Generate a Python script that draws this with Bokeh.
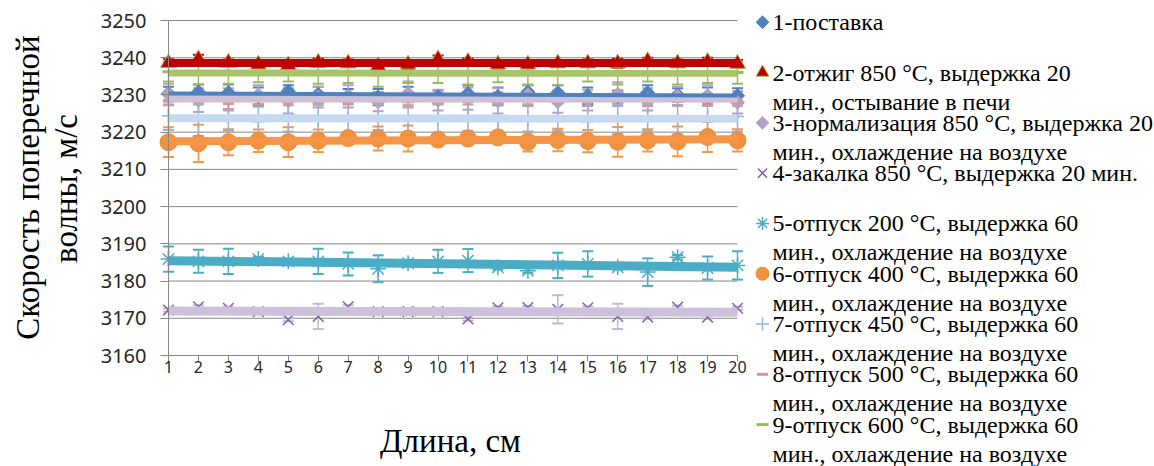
import numpy as np
from math import pi
from bokeh.plotting import figure
from bokeh.models import ColumnDataSource, FixedTicker, Range1d, Whisker, TeeHead, Label
from bokeh.embed import file_html
from bokeh.resources import INLINE

# ---------------- data ----------------
x_cats = list(range(1, 21))
y_ticks = [3160, 3170, 3180, 3190, 3200, 3210, 3220, 3230, 3240, 3250]

s1 = [3230.4, 3230.8, 3230.6, 3229.6, 3231.0, 3230.2, 3229.8, 3229.4, 3230.2, 3229.6,
      3230.4, 3229.6, 3230.8, 3230.6, 3229.8, 3229.6, 3230.6, 3230.0, 3229.6, 3229.8]
e1 = [1.8, 2.0, 2.2, 2.4, 1.6, 2.0, 1.8, 2.2, 2.0, 1.6, 2.2, 2.4, 1.8, 2.0, 2.2, 1.6, 2.0, 1.8, 2.4, 2.0]

s2 = [3238.6, 3239.6, 3238.7, 3238.2, 3238.0, 3238.7, 3238.5, 3237.8, 3238.2, 3239.6,
      3238.9, 3238.2, 3238.2, 3238.5, 3238.5, 3238.5, 3239.1, 3238.5, 3238.9, 3238.4]
e2 = [1.0, 1.2, 0.8, 1.0, 0.9, 1.1, 1.0, 0.8, 1.2, 1.0, 0.9, 1.1, 1.0, 0.8, 1.0, 1.2, 0.9, 1.0, 1.1, 1.0]

s3 = [3230.2, 3228.6, 3228.8, 3230.0, 3228.4, 3229.4, 3229.6, 3228.2, 3230.4, 3228.6,
      3229.0, 3228.4, 3230.0, 3228.2, 3228.6, 3230.2, 3228.8, 3229.6, 3229.8, 3228.0]
e3 = [2.8, 3.2, 3.0, 2.6, 3.4, 2.8, 3.0, 2.6, 3.2, 2.8, 3.0, 3.4, 2.6, 3.0, 2.8, 3.2, 3.0, 2.6, 2.8, 3.0]

s4 = [3172.2, 3173.1, 3172.7, 3171.8, 3169.6, 3170.5, 3173.1, 3171.8, 3171.8, 3171.8,
      3169.8, 3172.8, 3172.9, 3172.4, 3172.8, 3170.5, 3170.3, 3173.0, 3170.3, 3172.7]
e4 = [0.4, 0.4, 0.4, 0.4, 0.4, 3.4, 0.4, 0.4, 0.4, 0.4, 0.4, 0.4, 0.4, 3.8, 0.4, 3.4, 0.4, 0.4, 0.4, 0.4]

s5 = [3185.9, 3185.3, 3185.3, 3185.9, 3185.3, 3185.3, 3184.6, 3183.3, 3184.8, 3185.3,
      3185.5, 3183.7, 3182.8, 3184.2, 3184.6, 3183.7, 3182.4, 3186.4, 3183.5, 3184.2]
e5 = [3.4, 3.1, 3.4, 0.6, 0.6, 3.4, 3.1, 3.6, 0.6, 3.1, 3.1, 0.6, 0.6, 3.4, 3.4, 0.6, 3.7, 0.6, 3.1, 3.8]

s6 = [3217.3, 3217.0, 3217.3, 3217.7, 3217.3, 3217.7, 3218.4, 3218.3, 3218.3, 3218.0,
      3218.3, 3218.6, 3217.4, 3217.9, 3217.6, 3217.4, 3217.8, 3217.5, 3218.7, 3217.8]
e6 = [4.0, 5.0, 3.5, 3.0, 4.0, 3.0, 0.8, 3.2, 3.5, 0.8, 0.8, 0.8, 2.6, 3.0, 3.0, 4.0, 3.0, 4.0, 4.0, 3.0]

s7 = [3224.4, 3223.2, 3224.0, 3222.8, 3224.6, 3223.4, 3223.8, 3224.2, 3222.9, 3223.6,
      3224.4, 3223.0, 3223.8, 3224.2, 3222.8, 3223.6, 3224.0, 3223.2, 3223.8, 3224.2]
e7 = [3.8, 4.2, 3.6, 4.0, 4.4, 3.8, 4.0, 3.6, 4.2, 3.8, 4.0, 4.4, 3.6, 3.8, 4.2, 4.0, 3.6, 3.8, 4.2, 4.0]

s8 = [3228.6, 3229.2, 3227.8, 3229.0, 3228.4, 3229.2, 3228.8, 3229.4, 3228.2, 3229.0,
      3228.6, 3229.2, 3228.4, 3229.0, 3228.6, 3229.4, 3228.2, 3228.8, 3229.0, 3228.4]
e8 = [1.4, 1.2, 1.6, 1.4, 1.2, 1.5, 1.4, 1.3, 1.6, 1.4, 1.2, 1.5, 1.4, 1.3, 1.6, 1.4, 1.2, 1.5, 1.4, 1.3]

s9 = [3236.2, 3235.6, 3236.0, 3235.8, 3236.4, 3235.6, 3236.0, 3235.4, 3235.8, 3236.2,
      3235.6, 3236.0, 3235.8, 3235.4, 3236.2, 3235.8, 3236.0, 3235.6, 3235.8, 3236.0]
e9 = [2.6, 2.8, 3.0, 2.4, 2.8, 2.6, 2.8, 3.2, 2.6, 3.0, 2.8, 2.6, 3.0, 2.8, 2.6, 3.0, 2.4, 2.8, 2.6, 3.0]

legend_lines = [
    ("1-поставка", ""),
    ("2-отжиг 850 °C, выдержка 20", "мин., остывание в печи"),
    ("3-нормализация 850 °C, выдержка 20", "мин., охлаждение на воздухе"),
    ("4-закалка 850 °C, выдержка 20 мин.", ""),
    ("5-отпуск 200 °C, выдержка 60", "мин., охлаждение на воздухе"),
    ("6-отпуск 400 °C, выдержка 60", "мин., охлаждение на воздухе"),
    ("7-отпуск 450 °C, выдержка 60", "мин., охлаждение на воздухе"),
    ("8-отпуск 500 °C, выдержка 60", "мин., охлаждение на воздухе"),
    ("9-отпуск 600 °C, выдержка 60", "мин., охлаждение на воздухе"),
]
x_title = "Длина, см"
y_title = ("Скорость поперечной", "волны, м/с")

# ---------------- styles ----------------
series = [
    dict(y=s1, e=e1, marker="square", angle=pi / 4, size=10, fill="#4F81BD", line="#4F81BD", lw=1,
         ecol="#4F81BD", tcol="#4F81BD", tw=4),
    dict(y=s2, e=e2, marker="triangle", angle=0, size=16, fill="#C00000", line="#9BBB59", lw=1,
         ecol="#C00000", tcol="#C00000", tw=8),
    dict(y=s3, e=e3, marker="square", angle=pi / 4, size=10, fill="#B3A2C7", line="#B3A2C7", lw=1,
         ecol="#B3A2C7", tcol="#CCC1DA", tw=6),
    dict(y=s4, e=e4, marker="x", angle=0, size=15, fill="#8064A2", line="#8064A2", lw=1.5,
         ecol="#C3B6D6", tcol="#CCC1DA", tw=9),
    dict(y=s5, e=e5, marker="asterisk", angle=0, size=16, fill="#4BACC6", line="#4BACC6", lw=1.5,
         ecol="#4BACC6", tcol="#4BACC6", tw=9),
    dict(y=s6, e=e6, marker="circle", angle=0, size=17, fill="#F0923F", line="#E98A38", lw=1,
         ecol="#F79646", tcol="#F79646", tw=8),
    dict(y=s7, e=e7, marker="cross", angle=0, size=13, fill="#95B3D7", line="#95B3D7", lw=1.5,
         ecol="#95B3D7", tcol="#C6D9F1", tw=8),
    dict(y=s8, e=e8, marker="dash", angle=0, size=11, fill="#D99694", line="#D99694", lw=3,
         ecol="#D99694", tcol="#E6B9B8", tw=6),
    dict(y=s9, e=e9, marker="dash", angle=0, size=12, fill="#9BBB59", line="#9BBB59", lw=3,
         ecol="#9BBB59", tcol="#A7C46B", tw=7),
]
trend_order = [7, 8, 1, 2, 0, 6, 5, 4, 3]

GRID = "#868686"
SERIF = "Liberation Serif"
SANS = "Noto Sans"

# ---------------- layout (pixels inside the canvas) ----------------
W, H = 1154, 466
AX_L, AX_R, AX_T, AX_B = 168, 737, 20, 355
Y0, Y1 = y_ticks[0], y_ticks[-1]
sx = (AX_R - AX_L) / (x_cats[-1] - x_cats[0])
sy = (AX_B - AX_T) / (Y1 - Y0)
x_start = x_cats[0] - AX_L / sx
x_end = x_start + W / sx
y_end = Y1 + AX_T / sy
y_start = y_end - H / sy


def px_x(px):
    return x_start + px / sx


def px_y(py):
    return y_end - py / sy


p = figure(width=W, height=H, x_range=Range1d(x_start, x_end), y_range=Range1d(y_start, y_end),
           min_border=0, title=None, output_backend="svg", toolbar_location=None)
p.outline_line_color = None
p.xgrid.visible = False
p.ygrid.visible = False

# horizontal gridlines spanning the categories
p.segment(x0=[x_cats[0]] * len(y_ticks), x1=[x_cats[-1]] * len(y_ticks), y0=y_ticks, y1=y_ticks,
          line_color=GRID, line_width=1, level="image")

# axes
p.yaxis.fixed_location = x_cats[0]
p.yaxis.bounds = (Y0, Y1)
p.yaxis.ticker = FixedTicker(ticks=y_ticks)
p.yaxis.axis_line_color = GRID
p.yaxis.major_tick_line_color = GRID
p.yaxis.minor_tick_line_color = None
p.yaxis.major_tick_in = 0
p.yaxis.major_tick_out = 8
p.yaxis.major_label_standoff = 14
p.yaxis.major_label_text_font = SANS
p.yaxis.major_label_text_font_size = "20px"
p.yaxis.major_label_text_color = "#262626"

p.xaxis.fixed_location = Y0
p.xaxis.bounds = (x_cats[0], x_cats[-1])
p.xaxis.ticker = FixedTicker(ticks=x_cats)
p.xaxis.axis_line_color = GRID
p.xaxis.major_tick_line_color = GRID
p.xaxis.minor_tick_line_color = None
p.xaxis.major_tick_in = 0
p.xaxis.major_tick_out = 6
p.xaxis.major_label_standoff = -1
p.xaxis.major_label_text_font = SANS
p.xaxis.major_label_text_font_size = "16px"
p.xaxis.major_label_text_color = "#262626"

# series: error bars + markers
for s in series:
    up = [v + d for v, d in zip(s["y"], s["e"])]
    lo = [v - d for v, d in zip(s["y"], s["e"])]
    src = ColumnDataSource(dict(x=x_cats, y=s["y"], upper=up, lower=lo))
    w = Whisker(source=src, base="x", upper="upper", lower="lower", dimension="height",
                line_color=s["ecol"], line_width=1.5, level="underlay",
                upper_head=TeeHead(size=11, line_color=s["ecol"], line_width=2),
                lower_head=TeeHead(size=11, line_color=s["ecol"], line_width=2))
    p.add_layout(w)
    p.scatter(x="x", y="y", source=src, marker=s["marker"], angle=s["angle"], size=s["size"],
              fill_color=s["fill"], line_color=s["line"], line_width=s["lw"])

# linear trendlines
for i in trend_order:
    s = series[i]
    m, b = np.polyfit(x_cats, s["y"], 1)
    xs = [x_cats[0], x_cats[-1]]
    p.line(xs, [m * xx + b for xx in xs], line_color=s["tcol"], line_width=s["tw"])

# axis titles
p.add_layout(Label(x=px_x(450), y=px_y(440), text=x_title, text_font=SERIF, text_font_size="33px",
                   text_align="center", text_baseline="middle", text_color="black"))
p.add_layout(Label(x=px_x(27), y=px_y(187), text=y_title[0], text_font=SERIF, text_font_size="33px",
                   angle=pi / 2, text_align="center", text_baseline="middle", text_color="black"))
p.add_layout(Label(x=px_x(65), y=px_y(188), text=y_title[1], text_font=SERIF, text_font_size="33px",
                   angle=pi / 2, text_align="center", text_baseline="middle", text_color="black"))

# ---------------- legend ----------------
n = len(legend_lines)
ly1 = [px_y(21.7 + 50.3 * i) for i in range(n)]
ly2 = [px_y(21.7 + 50.3 * i + 29) for i in range(n)]
lmx = [px_x(762)] * n
lsrc = ColumnDataSource(dict(x=lmx, y=ly1, marker=[s["marker"] for s in series],
                             angle=[s["angle"] for s in series],
                             size=[min(s["size"], 13) if s["marker"] != "square" else 9 for s in series],
                             fill=[s["fill"] for s in series], line=[s["line"] for s in series],
                             lw=[s["lw"] for s in series]))
p.scatter(x="x", y="y", source=lsrc, marker="marker", angle="angle", size="size",
          fill_color="fill", line_color="line", line_width="lw")
for (a, b), ya, yb in zip(legend_lines, ly1, ly2):
    for txt, yy in ((a, ya), (b, yb)):
        if txt:
            p.add_layout(Label(x=px_x(772), y=yy, text=txt, text_font=SERIF, text_font_size="24px",
                               text_align="left", text_baseline="middle", text_color="black"))

open("out.html", "w").write(file_html(p, INLINE))
